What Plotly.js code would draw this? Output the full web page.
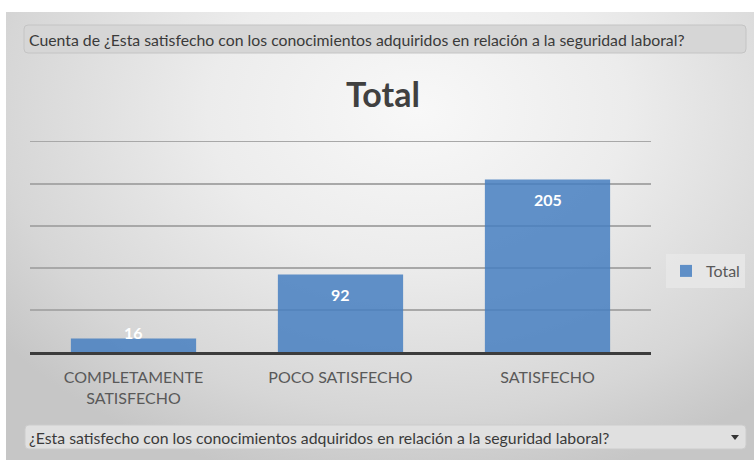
<!DOCTYPE html>
<html>
<head>
<meta charset="utf-8">
<script src="https://cdn.plot.ly/plotly-3.0.1.min.js"></script>
<style>
  html, body { margin:0; padding:0; background:#ffffff; }
  #bg { position:absolute; left:6px; top:12px; width:748px; height:448px;
        background: radial-gradient(ellipse 70% 85% at 55% 22%, #f8f8f8 0%, #ececec 40%, #d6d6d6 80%, #c6c6c6 100%); }
  #chart { position:absolute; left:0; top:0; width:754px; height:460px; }
</style>
</head>
<body>
<div id="bg"></div>
<div id="chart"></div>
<script>
// ---- data ----
const categories = ["COMPLETAMENTE<br>SATISFECHO", "POCO SATISFECHO", "SATISFECHO"];
const values = [16, 92, 205];
const seriesName = "Total";
const chartTitle = "Total";
const filterText = "Cuenta de ¿Esta satisfecho con los conocimientos adquiridos en relación a la seguridad laboral?";
const axisFieldText = "¿Esta satisfecho con los conocimientos adquiridos en relación a la seguridad laboral?";
const yTicks = [0, 50, 100, 150, 200, 250];

// ---- layout geometry (pixels) ----
const W = 754, H = 460;
const M = {l: 30, r: 103, t: 140, b: 108, autoexpand: false};
const PW = W - M.l - M.r, PH = H - M.t - M.b;
const px = x => (x - M.l) / PW;
const py = y => (H - M.b - y) / PH;
const font = "Lato, 'Open Sans', sans-serif";

function roundRect(x0, y0, x1, y1, r) {
  const X0 = px(x0), X1 = px(x1), Y0 = py(y0), Y1 = py(y1);
  const rx = r / PW, ry = r / PH;
  return `M ${X0+rx},${Y0} L ${X1-rx},${Y0} Q ${X1},${Y0} ${X1},${Y0-ry} L ${X1},${Y1+ry} Q ${X1},${Y1} ${X1-rx},${Y1} L ${X0+rx},${Y1} Q ${X0},${Y1} ${X0},${Y1+ry} L ${X0},${Y0-ry} Q ${X0},${Y0} ${X0+rx},${Y0} Z`;
}

const barColor = "rgba(71,127,193,0.85)";

const trace = {
  type: "bar",
  x: categories,
  y: values,
  name: seriesName,
  marker: {color: barColor, line: {width: 0}},
  hoverinfo: "x+y",
  showlegend: true
};

// data labels: inside end, pushed above when bar too short
const yMax = yTicks[yTicks.length - 1];
const labelAnn = values.map((v, i) => {
  const barPx = v / yMax * PH;
  const inside = barPx > 30;
  return {
    x: categories[i], y: v, xref: "x", yref: "y",
    text: "<b>" + v + "</b>", showarrow: false,
    yanchor: inside ? "top" : "bottom",
    yshift: inside ? -8 : -5,
    font: {family: font, size: 16, color: "#ffffff"}
  };
});

const layout = {
  width: W, height: H,
  margin: M,
  paper_bgcolor: "rgba(0,0,0,0)",
  plot_bgcolor: "rgba(0,0,0,0)",
  bargap: 0.395,
  title: {
    text: "<b>" + chartTitle + "</b>",
    font: {family: font, size: 34, color: "#404040"},
    x: 383 / W, xref: "container", xanchor: "center",
    y: 1 - 95 / H, yref: "container", yanchor: "middle"
  },
  xaxis: {
    type: "category",
    showline: true, linecolor: "#3c3c3c", linewidth: 3,
    showgrid: false, ticks: "", ticklen: 0,
    ticklabelstandoff: 9,
    tickfont: {family: font, size: 16, color: "#595959"},
    layer: "above traces",
    fixedrange: true
  },
  yaxis: {
    range: [0, yMax + 2],
    tickvals: yTicks,
    showticklabels: false,
    showgrid: true, gridcolor: "#a8a8a8", gridwidth: 1.5,
    zeroline: false, showline: false, ticks: "",
    fixedrange: true
  },
  legend: {
    x: px(666), xanchor: "left",
    y: py(271), yanchor: "middle",
    bgcolor: "rgba(232,232,232,0.85)",
    borderwidth: 0,
    font: {family: font, size: 16, color: "#595959"},
    itemwidth: 30
  },
  shapes: [
    {type: "path", xref: "paper", yref: "paper", path: roundRect(24, 25, 746, 53, 4),
     fillcolor: "#d6d6d6", line: {color: "#c4c4c4", width: 1}, layer: "below"},
    {type: "path", xref: "paper", yref: "paper", path: roundRect(25, 425, 746, 449, 4),
     fillcolor: "#e0e0e0", line: {color: "#cccccc", width: 1}, layer: "below"},
    {type: "path", xref: "paper", yref: "paper",
     path: `M ${px(731)},${py(435)} L ${px(739)},${py(435)} L ${px(735)},${py(440)} Z`,
     fillcolor: "#333333", line: {width: 0}}
  ],
  annotations: labelAnn.concat([
    {xref: "paper", yref: "paper", x: px(27), y: py(39.5), xanchor: "left", yanchor: "middle",
     text: filterText, showarrow: false, font: {family: font, size: 15.8, color: "#3a3a3a"}},
    {xref: "paper", yref: "paper", x: px(27), y: py(437), xanchor: "left", yanchor: "middle",
     text: axisFieldText, showarrow: false, font: {family: font, size: 15.8, color: "#3a3a3a"}}
  ])
};

Plotly.newPlot("chart", [trace], layout, {displayModeBar: false, staticPlot: true});
</script>
</body>
</html>
